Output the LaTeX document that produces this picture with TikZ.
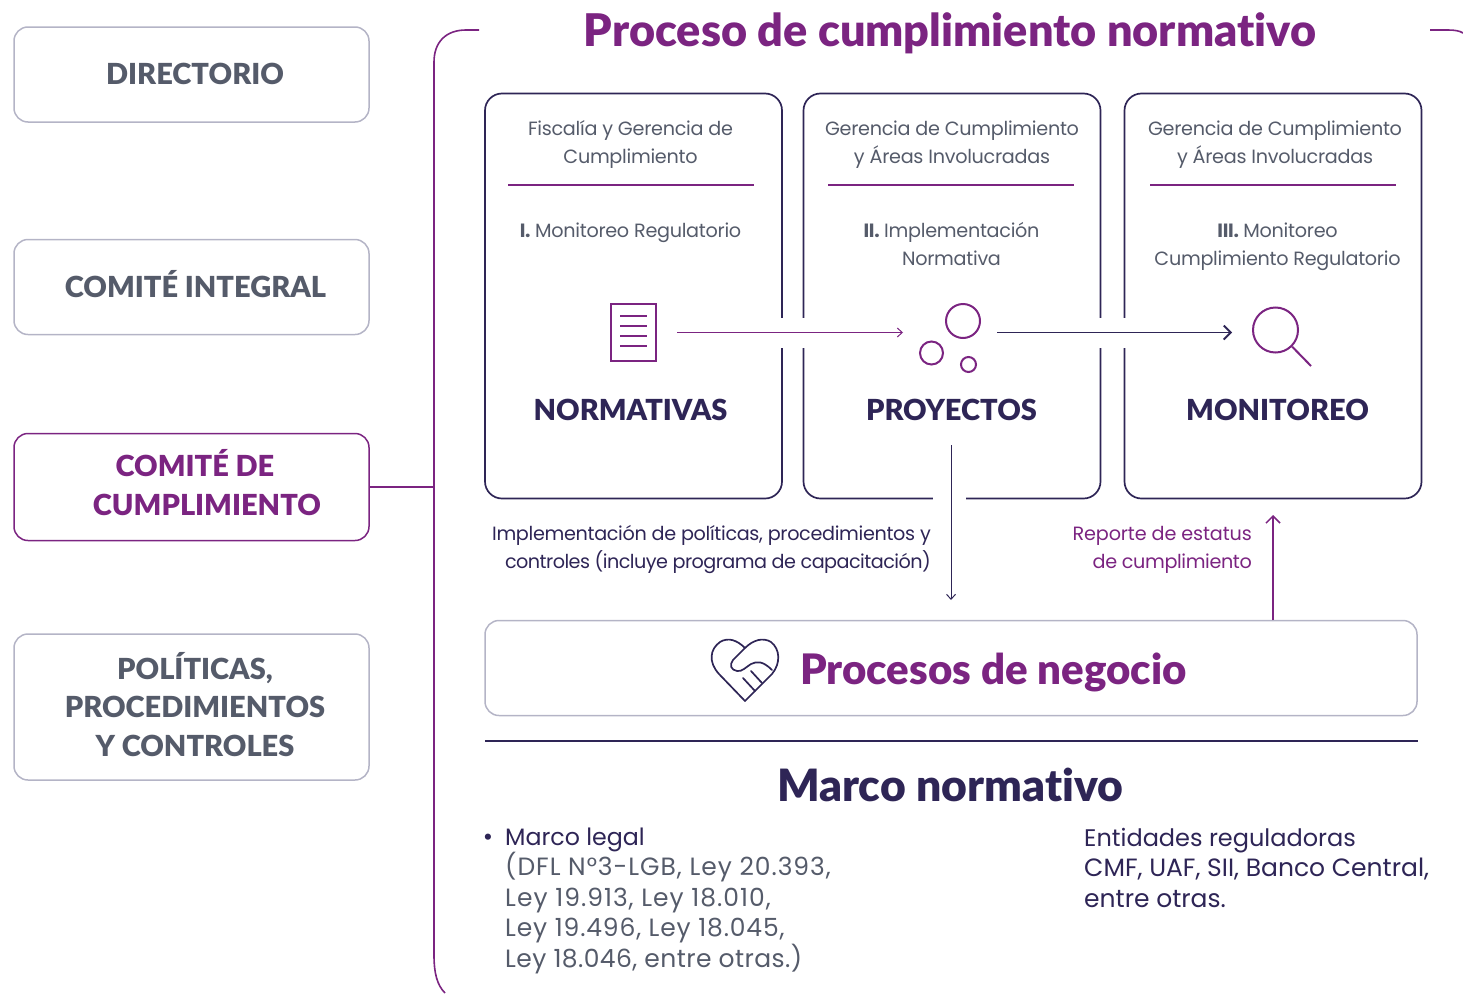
\documentclass[tikz,border=0pt]{standalone}
\usepackage{fontspec}
\setmainfont{Poppins}
\newfontfamily\headfont[Ligatures=NoCommon]{Lato Black}
\usetikzlibrary{arrows.meta}
\definecolor{purp}{HTML}{7B2481}
\definecolor{navy}{HTML}{2E2556}
\definecolor{greytxt}{HTML}{555B6A}
\definecolor{greyline}{HTML}{B4B4C6}
\newcommand{\fsz}[1]{\fontsize{#1}{28}\selectfont}
\tikzset{x=1pt,y=-1pt,
 sidebox/.style={draw=greyline,line width=1.5pt,rounded corners=14pt,minimum width=355pt,inner sep=0pt},
 sidetxt/.style={inner sep=0pt,anchor=base,text=greytxt,font=\headfont\fsz{29}},
 stagebox/.style={draw=navy,line width=1.7pt,rounded corners=17pt,minimum width=297pt,minimum height=405pt,inner sep=0pt},
 bodytxt/.style={inner sep=0pt,anchor=base,text=greytxt,font=\fsz{19.2}\addfontfeatures{LetterSpace=-1.5}},
 stagehead/.style={inner sep=0pt,anchor=base,text=navy,font=\headfont\fsz{29}},
 listtxt/.style={inner sep=0pt,anchor=base west,text=navy,font=\fsz{25}},
 rulep/.style={draw=purp,line width=1.6pt},
 icon/.style={draw=purp,line width=2pt},
 headline/.style={inner sep=0pt,anchor=base,font=\headfont\fsz{45}}
}
\begin{document}
\begin{tikzpicture}
\useasboundingbox (0,0) rectangle (1463,993);
% side boxes
\node[sidebox,minimum height=95pt] (dir) at (191.5,74.5) {};
\node[sidetxt] (dirt) at (195,84) {DIRECTORIO};
\node[sidebox,minimum height=95pt] (integ) at (191.5,287) {};
\node[sidetxt] (integt) at (195.5,297) {COMITÉ INTEGRAL};
\node[sidebox,draw=purp,minimum height=107pt] (comp) at (191.5,487) {};
\node[sidetxt,text=purp] (comp1) at (195,476) {COMITÉ DE};
\node[sidetxt,text=purp] (comp2) at (207,515) {CUMPLIMIENTO};
\node[sidebox,minimum height=146pt] (pol) at (191.5,707) {};
\node[sidetxt] (pol1) at (195,679) {POLÍTICAS,};
\node[sidetxt] (pol2) at (195,717) {PROCEDIMIENTOS};
\node[sidetxt] (pol3) at (195,756) {Y CONTROLES};
% bracket
\coordinate (brtop) at (479,30);
\coordinate (brbot) at (445,993);
\coordinate (brjoin) at (434,487);
\draw[purp,line width=1.6pt] (brtop) -- (466,30) .. controls (446,30) and (434,42) .. (434,62) -- (434,955) .. controls (434,973) and (437,985) .. (brbot);
\draw[purp,line width=1.6pt] (comp.east) -- (brjoin);
\coordinate (tickl) at (1430,30);
\coordinate (tickr) at (1463,33);
\draw[purp,line width=1.6pt] (tickl) -- (1448,30) .. controls (1455,30) and (1460,31) .. (tickr);
\node[headline,text=purp] (title) at (950,46) {Proceso de cumplimiento normativo};
% stage boxes
\node[stagebox] (s1) at (633.5,296) {};
\node[stagebox] (s2) at (952,296) {};
\node[stagebox] (s3) at (1273,296) {};
% gaps
\fill[white] (775,318) rectangle (810,348);
\fill[white] (1095,318) rectangle (1130,348);
\fill[white] (933,490) rectangle (966,505);
% texts top
\node[bodytxt] (t1a) at (630.5,135) {Fiscalía y Gerencia de};
\node[bodytxt] (t1a2) at (630.5,163) {Cumplimiento};
\node[bodytxt] (t2a) at (952,135) {Gerencia de Cumplimiento};
\node[bodytxt] (t2a2) at (952,163) {y Áreas Involucradas};
\node[bodytxt] (t3a) at (1275,135) {Gerencia de Cumplimiento};
\node[bodytxt] (t3a2) at (1275,163) {y Áreas Involucradas};
\coordinate (r1a) at (508,185); \coordinate (r1b) at (754,185);
\coordinate (r2a) at (828,185); \coordinate (r2b) at (1074,185);
\coordinate (r3a) at (1150,185); \coordinate (r3b) at (1396,185);
\draw[rulep] (r1a) -- (r1b);
\draw[rulep] (r2a) -- (r2b);
\draw[rulep] (r3a) -- (r3b);
\node[bodytxt] (t1b) at (630.5,237) {\textbf{I.} Monitoreo Regulatorio};
\node[bodytxt] (t2b) at (951.5,237) {\textbf{II.} Implementación};
\node[bodytxt] (t2b2) at (951.5,265) {Normativa};
\node[bodytxt] (t3b) at (1277.5,237) {\textbf{III.} Monitoreo};
\node[bodytxt] (t3b2) at (1277.5,265) {Cumplimiento Regulatorio};
\node[stagehead] (h1) at (630.5,420) {NORMATIVAS};
\node[stagehead] (h2) at (951.5,420) {PROYECTOS};
\node[stagehead] (h3) at (1277.5,420) {MONITOREO};
% document icon
\node[draw=purp,line width=2pt,minimum width=45pt,minimum height=57pt,inner sep=0pt] (doc) at (633.5,332.5) {};
\foreach \yy in {316,326,336,346}{\draw[purp,line width=2pt] (620,\yy) -- (647,\yy);}
% bubbles
\node[icon,circle,minimum size=34pt,inner sep=0pt] (bub1) at (963,321) {};
\node[icon,circle,minimum size=23pt,inner sep=0pt] (bub2) at (931.5,353) {};
\node[icon,circle,minimum size=15pt,inner sep=0pt] (bub3) at (968.5,364.5) {};
% magnifier
\node[icon,circle,minimum size=45pt,inner sep=0pt] (lens) at (1275.5,330) {};
\coordinate (handle) at (1311,366);
\draw[icon] (lens.-45) -- (handle);
% arrows
\coordinate (a1s) at (677,332.5); \coordinate (a1e) at (903,332.5);
\draw[purp,line width=1pt,-{Straight Barb[length=5pt,width=9pt,line width=1pt]}] (a1s) -- (a1e);
\coordinate (a2s) at (997,332.5); \coordinate (a2e) at (1232,332.5);
\draw[navy,line width=1.8pt,-{Straight Barb[length=7pt,width=14pt,line width=1.8pt]}] (a2s) -- (a2e);
\coordinate (a3s) at (951,445); \coordinate (a3e) at (951,600);
\draw[navy,line width=1pt,-{Straight Barb[length=5pt,width=9pt,line width=1pt]}] (a3s) -- (a3e);
% labels
\node[bodytxt,anchor=base east,text=navy,font=\fsz{19.2}\addfontfeatures{LetterSpace=-1.7}] (imp) at (931,540) {Implementación de políticas, procedimientos y};
\node[bodytxt,anchor=base east,text=navy,font=\fsz{19.2}\addfontfeatures{LetterSpace=-2.8}] (imp2) at (931,568) {controles (incluye programa de capacitación)};
\node[bodytxt,anchor=base east,text=purp,font=\fsz{19.2}\addfontfeatures{LetterSpace=-0.7}] (rep) at (1252,540) {Reporte de estatus};
\node[bodytxt,anchor=base east,text=purp,font=\fsz{19.2}\addfontfeatures{LetterSpace=-2}] (rep2) at (1252,568) {de cumplimiento};
% process box
\node[sidebox,minimum width=932pt,minimum height=95pt] (proc) at (951,668) {};
\node[inner sep=0pt,anchor=base,text=purp,font=\headfont\fsz{42}] (proct) at (993.5,684) {Procesos de negocio};
\coordinate (rs) at (1273,620); \coordinate (re) at (1273,515);
\draw[purp,line width=1.6pt,-{Straight Barb[length=7pt,width=14pt,line width=1.5pt]}] (rs) -- (re);
% heart
\draw[navy,line width=1.7pt,line join=round,line cap=round] (745,701) -- (719,674) .. controls (708,662) and (710,649) .. (720,642) .. controls (728,637) and (737,640) .. (745,648) .. controls (753,640) and (763,637) .. (771,642) .. controls (780,649) and (781,663) .. (772,674) -- cycle;
\draw[navy,line width=1.7pt,line join=round,line cap=round] (745,648) -- (733,660) .. controls (729,665) and (731,670) .. (737,671) .. controls (742,672) and (746,667) .. (751,664) .. controls (757,661) and (763,661) .. (772,670);
\draw[navy,line width=1.7pt,line cap=round] (743,678) -- (755,691);
\draw[navy,line width=1.7pt,line cap=round] (751,671) -- (762,683);
% rule
\coordinate (hr1) at (485,741); \coordinate (hr2) at (1418,741);
\draw[navy,line width=1.5pt] (hr1) -- (hr2);
\node[inner sep=0pt,anchor=base,text=navy,font=\headfont\fsz{44.5}] (marco) at (950,801) {Marco normativo};
% lists
\node[listtxt,anchor=base] (bul) at (488,845) {•};
\node[listtxt,font=\fsz{23.7}] (l1) at (505,845) {Marco legal};
\node[listtxt,text=greytxt,font=\fsz{25}\addfontfeatures{LetterSpace=3.9}] (l2) at (505,875) {(DFL N°3-LGB, Ley 20.393,};
\node[listtxt,text=greytxt,font=\fsz{25}\addfontfeatures{LetterSpace=4}] (l3) at (505,906) {Ley 19.913, Ley 18.010,};
\node[listtxt,text=greytxt,font=\fsz{25}\addfontfeatures{LetterSpace=3.4}] (l4) at (505,936) {Ley 19.496, Ley 18.045,};
\node[listtxt,text=greytxt,font=\fsz{25}\addfontfeatures{LetterSpace=1.7}] (l5) at (505,967) {Ley 18.046, entre otras.)};
\node[listtxt,font=\fsz{24}] (e1) at (1084,846) {Entidades reguladoras};
\node[listtxt] (e2) at (1084,876) {CMF, UAF, SII, Banco Central,};
\node[listtxt] (e3) at (1084,907) {entre otras.};
\end{tikzpicture}
\end{document}
